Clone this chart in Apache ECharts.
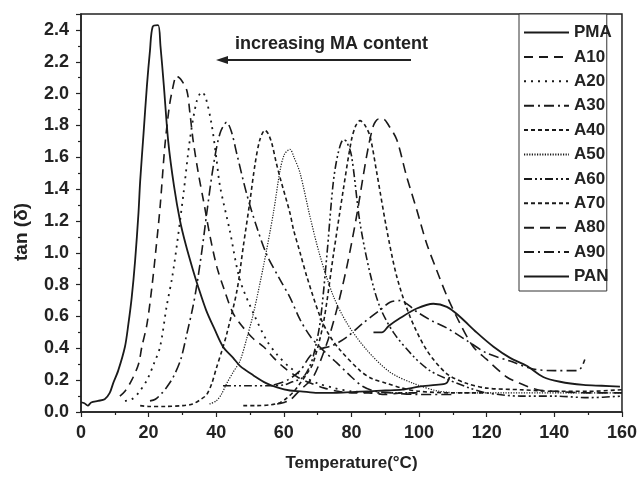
<!DOCTYPE html>
<html>
<head>
<meta charset="utf-8">
<script src="https://cdn.jsdelivr.net/npm/echarts@6/dist/echarts.min.js"></script>
<style>
html,body{margin:0;padding:0;background:#fff;}
#chart{width:640px;height:482px;}
</style>
</head>
<body>
<div id="chart"></div>
<script>
// Series names (legend order)
var seriesNames = ['PMA','A10','A20','A30','A40','A50','A60','A70','A80','A90','PAN'];

// [temperature (°C), tan(δ)]
var PMA = [[0,0.06],[1,0.055],[2,0.04],[3,0.06],[5,0.07],[7,0.08],[8.5,0.12],[9.5,0.18],[11,0.26],[13,0.41],[14,0.55],[15,0.72],[16,0.95],[17,1.25],[17.5,1.45],[18.5,1.75],[19.5,2.05],[20.4,2.27],[21.2,2.42],[22.8,2.43],[23.5,2.3],[24.5,2.05],[25.8,1.7],[27.5,1.42],[29.3,1.2],[31,1.05],[33,0.9],[34.6,0.79],[37,0.64],[39.5,0.52],[42,0.41],[45,0.34],[47,0.29],[51,0.23],[54.9,0.18],[58,0.155],[61.8,0.135],[65,0.13],[70,0.12],[75,0.12],[80,0.125],[85,0.13],[90,0.135],[95,0.14],[100,0.16],[105,0.17],[108,0.18],[109,0.22]];
var A10 = [[11.5,0.1],[13,0.13],[15,0.2],[17,0.3],[18,0.41],[19.5,0.55],[21,0.79],[22.3,1.05],[23.4,1.29],[24.8,1.67],[26,1.9],[26.8,2.0],[28.3,2.11],[29.5,2.09],[31.3,2.02],[32.2,1.88],[33.2,1.70],[34.7,1.5],[36.2,1.33],[38.2,1.1],[40.2,0.91],[42.5,0.76],[45,0.62],[48,0.53],[51,0.46],[54,0.41],[57,0.34],[60,0.28],[64,0.22],[68,0.18],[72,0.15],[76,0.13],[80,0.12],[85,0.12],[90,0.11],[95,0.12],[100,0.12]];
var A20 = [[13,0.07],[15,0.08],[17,0.12],[19.5,0.2],[21.5,0.3],[23.4,0.41],[25.3,0.66],[27,0.85],[28.3,1.04],[30.3,1.37],[32.2,1.71],[34.2,1.95],[35.7,2.01],[36.8,1.98],[38.6,1.81],[40,1.6],[41.1,1.42],[44,1.14],[47,0.83],[51,0.62],[54.9,0.45],[58,0.36],[61.8,0.28],[66,0.22],[70,0.18],[75,0.15],[80,0.13],[90,0.12],[100,0.12]];
var A30 = [[20.4,0.07],[22,0.08],[24,0.12],[25.5,0.16],[27.3,0.22],[29.5,0.33],[31.3,0.49],[33,0.65],[34.2,0.79],[35.8,1.02],[37.2,1.25],[39.1,1.54],[41.1,1.75],[43.1,1.82],[44.5,1.76],[46.1,1.62],[49,1.37],[52,1.16],[54.9,0.99],[58.9,0.83],[61.8,0.72],[64.8,0.58],[68,0.47],[72,0.38],[75.6,0.31],[80,0.22],[83.4,0.16],[87,0.13],[92,0.12],[100,0.11],[110,0.11]];
var A40 = [[17.5,0.04],[20,0.035],[25,0.035],[30,0.04],[33,0.05],[35.5,0.08],[37.2,0.11],[38.7,0.18],[40.1,0.28],[41.6,0.38],[43.1,0.49],[46.1,0.76],[48,1.04],[50,1.33],[51.5,1.56],[52.9,1.71],[54.4,1.77],[55.3,1.75],[56.4,1.69],[57.7,1.57],[58.9,1.47],[61.8,1.25],[62.8,1.15],[64.8,1.0],[66.8,0.85],[70.7,0.6],[73.5,0.48],[76.6,0.39],[82.5,0.26],[86,0.21],[90.4,0.18],[95,0.15],[100,0.13],[110,0.12],[120,0.12]];
var A50 = [[38,0.05],[40,0.07],[41.5,0.11],[43.1,0.18],[45,0.25],[47,0.32],[49,0.46],[51,0.62],[53.9,0.91],[56.9,1.25],[58.9,1.52],[60.2,1.62],[61.8,1.65],[63,1.6],[64.8,1.5],[67.7,1.23],[70.7,0.98],[74.6,0.73],[78.6,0.56],[84.5,0.39],[91.4,0.25],[98.3,0.18],[106,0.13],[115,0.12],[125,0.12],[135,0.12],[145,0.12],[160,0.12]];
var A60 = [[42,0.165],[50,0.165],[55,0.165],[60,0.17],[62.5,0.19],[64,0.2],[65.8,0.22],[67.5,0.28],[68.7,0.35],[70.7,0.56],[72.7,0.98],[74.6,1.44],[76.1,1.63],[77.6,1.71],[78.5,1.7],[80,1.61],[82.5,1.19],[85.5,0.87],[88.4,0.66],[92.4,0.5],[98.3,0.35],[103.2,0.26],[109,0.2],[115,0.15],[120,0.12],[130,0.1],[140,0.1],[150,0.09],[160,0.1]];
var A70 = [[48,0.04],[52,0.04],[56,0.045],[59,0.06],[61,0.09],[63,0.13],[64.8,0.18],[66.8,0.24],[68.7,0.31],[71.7,0.56],[74.6,0.98],[77.6,1.4],[80,1.71],[81.3,1.8],[82.5,1.83],[84,1.8],[85.5,1.73],[87.5,1.5],[90.4,1.15],[93.4,0.85],[97.3,0.6],[102.2,0.39],[108.2,0.24],[114,0.18],[120,0.15],[130,0.14],[140,0.13],[150,0.13],[160,0.14]];
var A80 = [[58,0.05],[60,0.06],[61.8,0.075],[64,0.12],[66,0.16],[68.7,0.22],[72.7,0.43],[75.6,0.64],[78.6,0.91],[81.5,1.23],[84.5,1.61],[86.5,1.8],[88,1.84],[89.4,1.84],[91,1.8],[93.4,1.71],[96.3,1.48],[99.3,1.27],[102.2,1.06],[105.2,0.89],[108.2,0.73],[112,0.56],[116,0.41],[120,0.33],[125.9,0.22],[129.8,0.18],[135,0.14],[140,0.13],[150,0.12],[160,0.12]];
var A90 = [[57,0.17],[61,0.2],[64.8,0.26],[67.7,0.35],[70,0.39],[74.6,0.42],[78.6,0.47],[83.5,0.56],[88.4,0.64],[91.4,0.69],[94.4,0.7],[97,0.67],[99.3,0.63],[104,0.57],[108,0.53],[114,0.45],[120,0.37],[126.9,0.32],[133.7,0.27],[140,0.26],[146.6,0.26],[148,0.28],[149,0.33]];
var PAN = [[86.5,0.5],[89,0.5],[91,0.54],[94.4,0.59],[99.3,0.65],[104.2,0.68],[108.2,0.66],[112,0.6],[117,0.5],[122,0.41],[126.9,0.34],[131.8,0.29],[136.7,0.22],[141.7,0.19],[148.6,0.17],[154,0.165],[159.4,0.16]];

var seriesData = [PMA, A10, A20, A30, A40, A50, A60, A70, A80, A90, PAN];

// Axis ticks
var xTicks = [0,20,40,60,80,100,120,140,160];
var yTicks = [0.0,0.2,0.4,0.6,0.8,1.0,1.2,1.4,1.6,1.8,2.0,2.2,2.4];

var annotationText = 'increasing MA content';

// Styles (kept separate from data)
var ink = '#1a1a1a';
var dashStyles = [
  {type:'solid', width:1.8},
  {type:[9,6], width:1.6},
  {type:[2,5], width:1.8},
  {type:[10,4,2,4], width:1.6},
  {type:[4,3], width:1.6},
  {type:[1.2,1.4], width:1.2},
  {type:[8,3,2,3,2,3], width:1.6},
  {type:[4,3], width:1.6},
  {type:[10,6], width:1.6},
  {type:[10,4,2,4], width:1.6},
  {type:'solid', width:1.8}
];

var chart = echarts.init(document.getElementById('chart'), null, {renderer:'canvas'});
var font = '"Liberation Sans", Arial, sans-serif';

var series = seriesNames.map(function(n, i){
  return {
    name: n, type: 'line', data: seriesData[i],
    symbol: 'none', showSymbol: false, smooth: 0.3,
    lineStyle: {color: ink, width: dashStyles[i].width, type: dashStyles[i].type},
    itemStyle: {color: ink},
    emphasis: {disabled: true},
    animation: false
  };
});

chart.setOption({
  animation: false,
  backgroundColor: '#fff',
  grid: {left: 81, right: 18, top: 14, bottom: 70, show: true, borderColor: '#222', borderWidth: 1.5, backgroundColor: 'transparent'},
  xAxis: {
    type: 'value', min: xTicks[0], max: xTicks[xTicks.length-1], interval: xTicks[1]-xTicks[0],
    axisLine: {lineStyle: {color: '#222', width: 1.5}},
    axisTick: {inside: false, length: 5, lineStyle: {color: '#222', width: 1.2}},
    minorTick: {show: true, splitNumber: 2, length: 3, lineStyle: {color: '#222', width: 1.2}},
    splitLine: {show: false},
    axisLabel: {color: '#222', fontSize: 18, fontWeight: 'bold', fontFamily: font, margin: 12},
    name: 'Temperature(°C)', nameLocation: 'middle', nameGap: 43,
    nameTextStyle: {color: '#222', fontSize: 17, fontWeight: 'bold', fontFamily: font}
  },
  yAxis: {
    type: 'value', min: yTicks[0], max: 2.5, interval: yTicks[1]-yTicks[0],
    axisLine: {show: true, lineStyle: {color: '#222', width: 1.5}},
    axisTick: {show: true, inside: false, length: 5, lineStyle: {color: '#222', width: 1.2}},
    minorTick: {show: true, splitNumber: 2, length: 3, lineStyle: {color: '#222', width: 1.2}},
    splitLine: {show: false},
    axisLabel: {color: '#222', fontSize: 18, fontWeight: 'bold', fontFamily: font, margin: 12, showMaxLabel: false,
      formatter: function(v){ return v.toFixed(1); }}
  },
  legend: {
    orient: 'vertical', left: 519, top: 14,
    data: seriesNames,
    itemWidth: 45, itemHeight: 14, itemGap: 7.4,
    padding: [10, -5, 6, 4],
    itemStyle: {opacity: 0},
    backgroundColor: '#fff', borderColor: '#333', borderWidth: 1, borderRadius: 0,
    textStyle: {color: '#222', fontSize: 17, fontWeight: 'bold', fontFamily: font},
    selectedMode: false
  },
  graphic: [
    {type: 'text', rotation: Math.PI/2, x: 22, y: 232, style: {text: 'tan (δ)', fill: '#222', font: 'bold 19px ' + font, align: 'center', verticalAlign: 'middle'}},
    {type: 'text', style: {text: annotationText, x: 235, y: 44, fill: '#222', font: 'bold 18px ' + font, verticalAlign: 'middle'}},
    {type: 'line', shape: {x1: 226, y1: 60, x2: 411, y2: 60}, style: {stroke: '#222', lineWidth: 2}},
    {type: 'polygon', shape: {points: [[216,60],[228,56],[228,64]]}, style: {fill: '#222'}}
  ],
  series: series
});
</script>
</body>
</html>
